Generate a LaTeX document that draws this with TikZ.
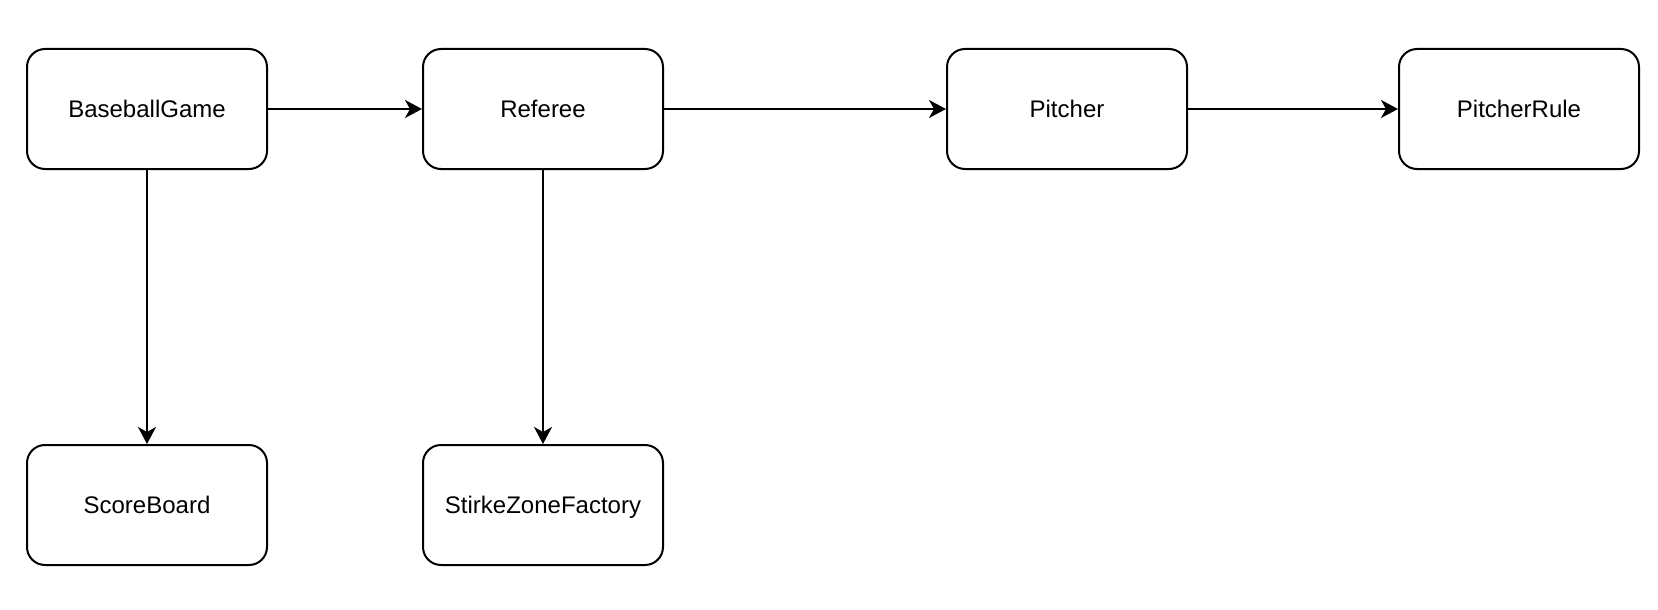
\documentclass[tikz,border=0pt]{standalone}
\usepackage{fontspec}
\setmainfont{Liberation Sans}
\usetikzlibrary{arrows.meta}
\begin{document}
\begin{tikzpicture}[x=1pt,y=1pt,
  box/.style={draw=black, line width=2pt, rounded corners=18pt, minimum width=240pt, minimum height=120pt, inner sep=0pt, text height=17.5pt, text depth=0.5pt, font=\fontsize{24}{28}\selectfont, fill=white},
  conn/.style={draw=black, line width=2pt, -{Stealth[length=17pt, width=18pt, inset=5pt]}}]
\useasboundingbox (0,0) rectangle (1658,-610);
\node[box] (game) at (147,-109) {BaseballGame};
\node[box] (ref) at (543,-109) {Referee};
\node[box] (pitch) at (1067,-109) {Pitcher};
\node[box] (rule) at (1519,-109) {PitcherRule};
\node[box] (score) at (147,-505) {ScoreBoard};
\node[box] (zone) at (543,-505) {StirkeZoneFactory};
\draw[conn] (game) -- (ref);
\draw[conn] (ref) -- (pitch);
\draw[conn] (pitch) -- (rule);
\draw[conn] (game) -- (score);
\draw[conn] (ref) -- (zone);
\end{tikzpicture}
\end{document}
